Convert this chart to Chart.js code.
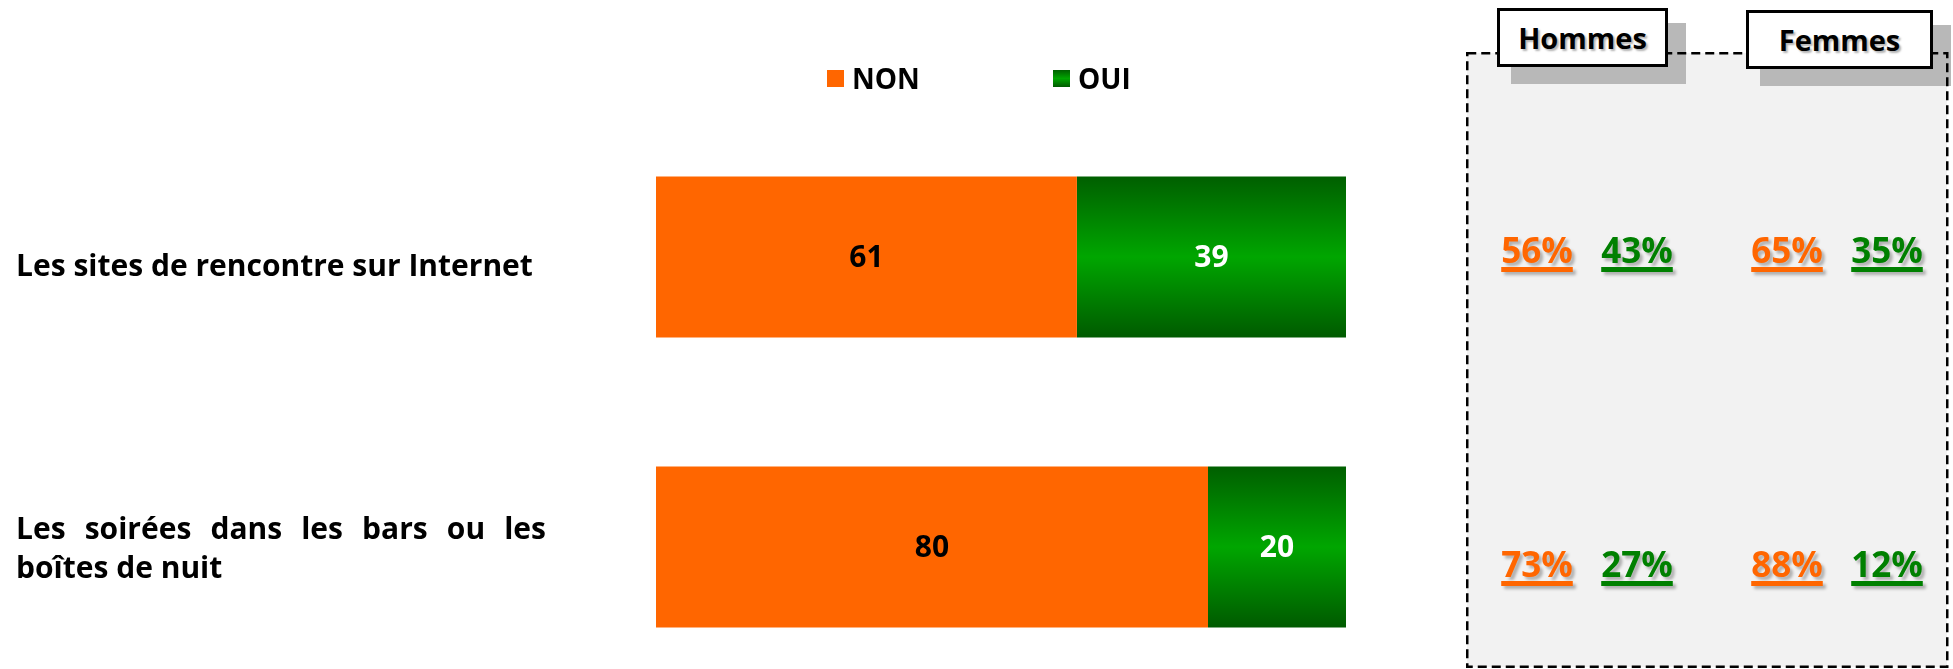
<!DOCTYPE html>
<html lang="fr">
<head>
<meta charset="utf-8">
<title>Sites de rencontre et soirées</title>
<script src="https://cdn.jsdelivr.net/npm/chart.js@4.4.1/dist/chart.umd.min.js"></script>
<style>
  html, body { margin: 0; padding: 0; background: #fff; }
  body { width: 1953px; height: 669px; overflow: hidden; position: relative; font-family: "Open Sans", "DejaVu Sans", sans-serif; }
  #barChart { position: absolute; left: 0; top: 0; }
  .catLabel { position: absolute; left: 16px; width: 530px; font-weight: bold; font-size: 30px; line-height: 39px; text-align: justify; color: #000; }
  #panelFill { position: absolute; left: 1467px; top: 53px; width: 480px; height: 614px; background: #f2f2f2; }
  #panelBorder { position: absolute; left: 1466px; top: 52px; }
  .shadow { position: absolute; background: #b8b8b8; }
  .head { position: absolute; height: 59px; box-sizing: border-box; border: 3px solid #000; background: #fff;
          font-weight: bold; font-size: 29px; line-height: 53px; text-align: center; color: #000;
          text-shadow: 2px 2px 2px rgba(0,0,0,0.3); }
  .pct { position: absolute; font-weight: bold; font-size: 35px; line-height: 35px; transform: translateX(-50%);
         text-decoration: underline; text-decoration-thickness: 5px; text-underline-offset: 4px;
         text-shadow: 3px 3px 3px rgba(0,0,0,0.28); white-space: nowrap; }
</style>
</head>
<body>
<div id="panelFill"></div>
<div id="shadows"></div>
<svg id="panelBorder" width="484" height="617">
  <rect x="1.25" y="1.25" width="480" height="613.5" fill="none" stroke="#000" stroke-width="2.5" stroke-dasharray="9 5"></rect>
</svg>
<canvas id="barChart" width="1953" height="706"></canvas>
<script>
// data
const categories = ['Les sites de rencontre sur Internet', 'Les soirées dans les bars ou les boîtes de nuit'];
const seriesLabels = ['NON', 'OUI'];
const nonValues = [61, 80];
const ouiValues = [39, 20];

const groupLabels = ['Hommes', 'Femmes'];
const hommesNon = [56, 73];
const hommesOui = [43, 27];
const femmesNon = [65, 88];
const femmesOui = [35, 12];

let nonColor = '#ff6600';
let ouiText = '#008000';

function greenGradient(ctx, top, bottom) {
    const g = ctx.createLinearGradient(0, top, 0, bottom);
    g.addColorStop(0, '#005f00');
    g.addColorStop(0.5, '#00a600');
    g.addColorStop(1, '#005a00');
    return g;
}

//plugins
const barValues = {
    id: 'barValues',
    afterDatasetsDraw(chart) {
        const { ctx } = chart;
        ctx.save();
        ctx.font = 'bold 30px "Open Sans"';
        ctx.textAlign = 'center';
        ctx.textBaseline = 'middle';
        chart.data.datasets.forEach((ds, di) => {
            chart.getDatasetMeta(di).data.forEach((bar, i) => {
                ctx.fillStyle = ds.textColor;
                ctx.fillText(String(ds.data[i]), (bar.x + bar.base) / 2, bar.y + 1);
            });
        });
        ctx.restore();
    }
};

const topLegend = {
    id: 'topLegend',
    afterDraw(chart) {
        const { ctx } = chart;
        const startX = 827, boxY = 70, box = 17, step = 226;
        ctx.save();
        ctx.font = 'bold 28px "Open Sans"';
        ctx.textAlign = 'left';
        ctx.textBaseline = 'alphabetic';
        chart.data.datasets.forEach((ds, i) => {
            const x = startX + i * step;
            ctx.fillStyle = i === 0 ? nonColor : greenGradient(ctx, boxY, boxY + box);
            ctx.fillRect(x, boxY, box, box);
            ctx.fillStyle = '#000';
            ctx.fillText(ds.label, x + box + 8, 89);
        });
        ctx.restore();
    }
};

// config
const barPct = 0.555;
const config = {
    type: 'bar',
    data: {
        labels: categories,
        datasets: [
            {
                label: seriesLabels[0],
                data: nonValues,
                backgroundColor: nonColor,
                textColor: '#000'
            },
            {
                label: seriesLabels[1],
                data: ouiValues,
                backgroundColor: function (context) {
                    const chart = context.chart;
                    const area = chart.chartArea;
                    if (!area || context.dataIndex === undefined) return '#00a000';
                    const mid = chart.scales.y.getPixelForValue(context.dataIndex);
                    const half = (area.bottom - area.top) / categories.length * barPct / 2;
                    return greenGradient(chart.ctx, mid - half, mid + half);
                },
                textColor: '#fff'
            }
        ]
    },
    options: {
        indexAxis: 'y',
        responsive: false,
        animation: false,
        events: [],
        layout: {
            padding: { left: 656, right: 607, top: 112, bottom: 14 }
        },
        datasets: {
            bar: { barPercentage: barPct, categoryPercentage: 1, borderWidth: 0 }
        },
        scales: {
            x: { stacked: true, min: 0, max: 100, display: false },
            y: { stacked: true, display: false }
        },
        plugins: {
            legend: { display: false },
            tooltip: { enabled: false }
        }
    },
    plugins: [barValues, topLegend]
};

const chart = new Chart(document.getElementById('barChart'), config);

// category labels next to the bars
const yScale = chart.scales.y;
categories.forEach((text, i) => {
    const div = document.createElement('div');
    div.className = 'catLabel';
    div.textContent = text;
    document.body.appendChild(div);
    // one-line labels sit a little below the bar middle
    const shift = div.offsetHeight < 50 ? 7 : 0;
    div.style.top = (yScale.getPixelForValue(i) - div.offsetHeight / 2 + shift) + 'px';
});

// side panel: Hommes / Femmes
const heads = [
    { left: 1497, top: 8, w: 171 },
    { left: 1746, top: 10, w: 187 }
];
const shadows = document.getElementById('shadows');
heads.forEach((h, i) => {
    const sh = document.createElement('div');
    sh.className = 'shadow';
    sh.style.left = (h.left + 14) + 'px';
    sh.style.top = (h.top + 15) + 'px';
    sh.style.width = (h.w + 4) + 'px';
    sh.style.height = '61px';
    shadows.appendChild(sh);

    const box = document.createElement('div');
    box.className = 'head';
    box.style.left = h.left + 'px';
    box.style.top = h.top + 'px';
    box.style.width = h.w + 'px';
    box.textContent = groupLabels[i];
    document.body.appendChild(box);
});

const panelSeries = [[hommesNon, hommesOui], [femmesNon, femmesOui]];
const panelCols = [[1537, 1637], [1787, 1887]];
const rowTops = [232, 546];
panelSeries.forEach((pair, g) => {
    pair.forEach((values, s) => {
        values.forEach((v, r) => {
            const span = document.createElement('div');
            span.className = 'pct';
            span.textContent = v + '%';
            span.style.color = s === 0 ? nonColor : ouiText;
            span.style.left = panelCols[g][s] + 'px';
            span.style.top = rowTops[r] + 'px';
            document.body.appendChild(span);
        });
    });
});
</script>
</body>
</html>
